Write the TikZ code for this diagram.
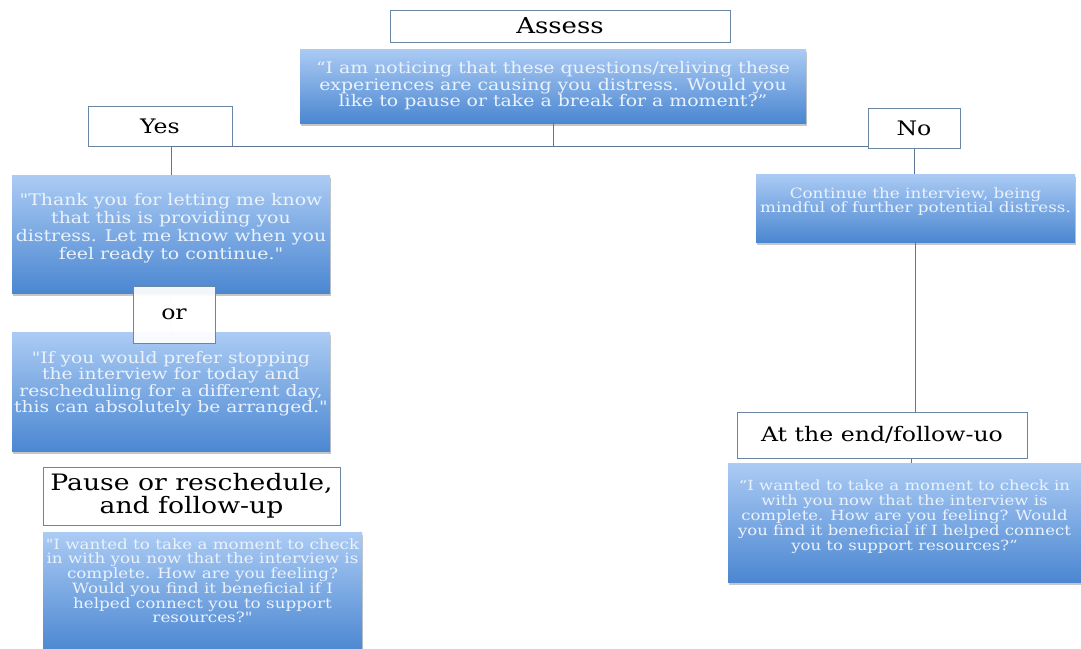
\documentclass[tikz,border=0pt]{standalone}
\usepackage{fontspec}
\setmainfont{DejaVu Serif}[FakeStretch=1.18, Ligatures=TeXOff]
\usetikzlibrary{positioning,shadows}
\definecolor{boxline}{HTML}{6A86A4}
\definecolor{linkline}{HTML}{5B7592}
\definecolor{qtop}{HTML}{ABCBF4}
\definecolor{qbot}{HTML}{4B87D1}
\definecolor{qtext}{HTML}{EAF2FC}
\newcommand\qsize[2]{\fontsize{#1}{#2}\selectfont}
\begin{document}
\begin{tikzpicture}[x=1pt, y=-1pt, node distance={39pt},
    head/.style = {draw=boxline, fill=white, line width=1pt, inner sep=0pt, align=center, font=\qsize{20}{22}},
    quote/.style = {top color=qtop, bottom color=qbot, text=qtext, inner sep=0pt, align=center,
        drop shadow={opacity=0.45, shadow xshift=1pt, shadow yshift=-2.5pt}},
    link/.style = {draw=linkline, line width=1pt}]
    \useasboundingbox (0,0) rectangle (1081,648);
    \clip (0,0) rectangle (1081,648);
    \node[head, minimum width=340pt, minimum height=32pt, font=\qsize{22}{24}] (assess) at (560,26) {Assess};
    \node[quote, minimum width=506pt, minimum height=74pt, font=\qsize{16}{16.5}] (assessq) at (553,86) {“I am noticing that these questions/reliving these\\experiences are causing you distress. Would you\\like to pause or take a break for a moment?”};
    \node[head, minimum width=144pt, minimum height=40pt] (yes) at (160,126) {Yes};
    \node[head, minimum width=92pt, minimum height=40pt] (no) at (914,128) {No};
    \node[quote, minimum width=318pt, minimum height=118pt, text depth=15pt, font=\qsize{16}{18}] (yesq) at (171,234) {"Thank you for letting me know\\that this is providing you\\distress. Let me know when you\\feel ready to continue."};
    \node[quote, minimum width=318pt, minimum height=119pt, text depth=20pt, font=\qsize{15.8}{15.5}] (prefq) [below=of yesq] {"If you would prefer stopping\\the interview for today and\\rescheduling for a different day,\\this can absolutely be arranged."};
    \draw[link, draw=linkline!40] (yesq.south) -- (prefq.north);
    \node[head, minimum width=82pt, minimum height=57pt, fill opacity=0.93, text opacity=1] (orbox) at (174,314.5) {or};
    \node[head, minimum width=297pt, minimum height=58pt, font=\qsize{22.6}{23}] (pause) at (191.5,496) {Pause or reschedule,\\and follow-up};
    \node[quote, minimum width=319pt, minimum height=120pt, text depth=22pt, font=\qsize{14.2}{13.5}] (pauseq) at (202.5,592) {"I wanted to take a moment to check\\in with you now that the interview is\\complete. How are you feeling?\\Would you find it beneficial if I\\helped connect you to support\\resources?"};
    \node[quote, minimum width=319pt, minimum height=68pt, text depth=16pt, font=\qsize{14.2}{14}] (contq) at (915.5,208) {Continue the interview, being\\mindful of further potential distress.};
    \node[head, minimum width=290pt, minimum height=46pt] (atend) at (882,435) {At the end/follow-uo};
    \node[quote, minimum width=353pt, minimum height=119pt, text depth=14pt, font=\qsize{14}{15}] (endq) at (904.5,522.5) {“I wanted to take a moment to check in\\with you now that the interview is\\complete. How are you feeling? Would\\you find it beneficial if I helped connect\\you to support resources?”};
    \draw[link] (assessq.south) -- (assessq.south |- yes.south);
    \draw[link] (yesq.north |- yes.south) -- (no.west |- yes.south);
    \draw[link] (yesq.north) -- (yesq.north |- yes.south);
    \draw[link] (no.south) -- (no.south |- contq.north);
    \draw[link] (contq.south) -- (contq.south |- atend.north);
    \draw[link] ([xshift=29pt]atend.south) -- ([xshift=29pt]atend.south |- endq.north);
\end{tikzpicture}
\end{document}
